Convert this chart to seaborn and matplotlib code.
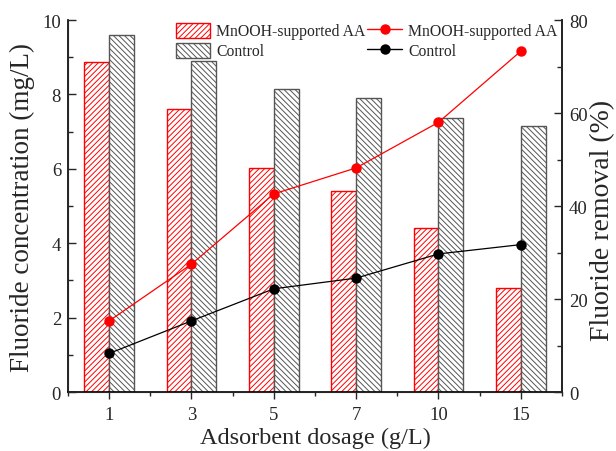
import numpy as np
import pandas as pd
import matplotlib
matplotlib.use("Agg")
import matplotlib.pyplot as plt
from matplotlib.patches import Patch
from matplotlib.lines import Line2D
from matplotlib.ticker import MultipleLocator, FixedLocator
import seaborn as sns

# Adsorbent dosage categories (g/L)
dosage = ["1", "3", "5", "7", "10", "15"]

# Residual fluoride concentration (mg/L)
conc_mnooh = [8.86, 7.60, 6.01, 5.41, 4.40, 2.79]
conc_control = [9.60, 8.89, 8.15, 7.90, 7.36, 7.16]

# Fluoride removal (%)
removal_mnooh = [15.3, 27.5, 42.6, 48.2, 58.0, 73.3]
removal_control = [8.3, 15.3, 22.2, 24.5, 29.7, 31.7]

groups = ["MnOOH-supported AA", "Control"]
RED = "#ff0000"
GREY = "#555555"
BLACK = "#000000"

sns.set_style("ticks")
plt.rcParams["font.family"] = ["Liberation Serif", "DejaVu Serif"]
plt.rcParams["hatch.linewidth"] = 0.7

bars = pd.DataFrame({
    "dosage": dosage * 2,
    "conc": conc_mnooh + conc_control,
    "group": [groups[0]] * len(dosage) + [groups[1]] * len(dosage),
})

fig = plt.figure(figsize=(6.16, 4.52), dpi=100)
ax = fig.add_axes([0.1104, 0.1305, 0.8019, 0.823])

sns.barplot(data=bars, x="dosage", y="conc", hue="group", hue_order=groups,
            order=dosage, palette={groups[0]: RED, groups[1]: GREY},
            width=0.6, gap=0, fill=False, linewidth=1.0, legend=False,
            errorbar=None, ax=ax)

n = len(dosage)
for i, p in enumerate(ax.patches):
    if i < n:
        p.set_edgecolor(RED)
        p.set_facecolor("white")
        p.set_hatch("//////")
    else:
        p.set_edgecolor(GREY)
        p.set_facecolor("white")
        p.set_hatch("\\\\\\\\\\\\")

ax.set_xlim(-0.5, n - 0.5)
ax.set_ylim(0, 10)
ax.yaxis.set_major_locator(MultipleLocator(2))
ax.yaxis.set_minor_locator(MultipleLocator(1))
ax.xaxis.set_minor_locator(FixedLocator(np.arange(-0.5, n, 1.0)))
ax.set_xlabel("Adsorbent dosage (g/L)", fontsize=17.5, labelpad=3)
ax.set_ylabel("Fluoride concentration (mg/L)", fontsize=19.5, labelpad=5)
ax.tick_params(axis="y", which="major", direction="in", length=6, width=1,
               labelsize=13.5, pad=5)
ax.tick_params(axis="y", which="minor", direction="in", length=3.5, width=1)
ax.tick_params(axis="x", which="major", direction="out", length=5, width=1,
               labelsize=13.5, pad=5)
ax.tick_params(axis="x", which="minor", direction="out", length=3, width=1)
ax.spines["top"].set_visible(False)
for s in ("left", "bottom", "right"):
    ax.spines[s].set_linewidth(1.2)
    ax.spines[s].set_color("black")

# Removal efficiency on the secondary axis
ax2 = ax.twinx()
pos = np.arange(n)
sns.lineplot(x=pos, y=removal_mnooh, color=RED, marker="o", markersize=7.5,
             markeredgewidth=0, linewidth=0.9, ax=ax2)
sns.lineplot(x=pos, y=removal_control, color=BLACK, marker="o", markersize=7.5,
             markeredgewidth=0, linewidth=0.9, ax=ax2)
ax2.set_ylim(0, 80)
ax2.set_xlim(-0.5, n - 0.5)
ax2.yaxis.set_major_locator(MultipleLocator(20))
ax2.yaxis.set_minor_locator(MultipleLocator(10))
ax2.tick_params(axis="y", which="major", direction="in", length=6, width=1,
                labelsize=13.5, pad=5)
ax2.tick_params(axis="y", which="minor", direction="in", length=3.5, width=1)
ax2.set_ylabel("Fluoride removal (%)", fontsize=20)
ax2.yaxis.set_label_coords(1.056, 0.465)
ax2.spines["top"].set_visible(False)
ax2.spines["right"].set_linewidth(1.2)

handles = [
    Patch(facecolor="white", edgecolor=RED, hatch="//////", linewidth=1.0),
    Patch(facecolor="white", edgecolor=GREY, hatch="\\\\\\\\\\\\", linewidth=1.0),
    Line2D([], [], color=RED, marker="o", markersize=7.5, markeredgewidth=0, linewidth=1.0),
    Line2D([], [], color=BLACK, marker="o", markersize=7.5, markeredgewidth=0, linewidth=1.0),
]
labels = [groups[0], groups[1], groups[0], groups[1]]
ax2.legend(handles, labels, ncol=2, frameon=False, fontsize=11.3,
           loc="upper left", bbox_to_anchor=(0.285, 0.948, 0.0, 0.0),
           bbox_transform=fig.transFigure, handlelength=2.2, handleheight=1.1,
           handletextpad=0.4, columnspacing=0.1, labelspacing=0.2,
           borderaxespad=0, borderpad=0)

fig.savefig("out.png", dpi=100)
